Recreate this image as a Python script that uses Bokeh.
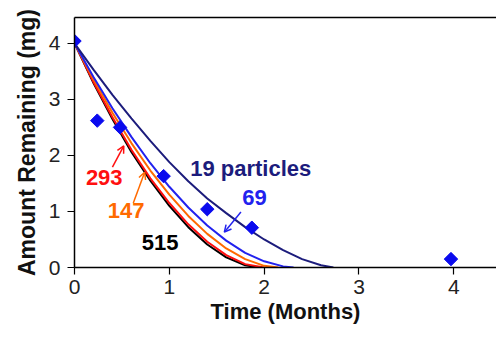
from bokeh.plotting import figure
from bokeh.models import (Range1d, LinearAxis, FixedTicker, Arrow, OpenHead, Label)
from bokeh.embed import file_html
from bokeh.resources import INLINE

# ---- data ----
meas_t = [0.0, 0.24, 0.48, 0.94, 1.40, 1.87, 3.97]
meas_m = [4.04, 2.62, 2.50, 1.63, 1.04, 0.71, 0.15]

t_515 = [0.0, 0.2, 0.4, 0.6, 0.8, 1.0, 1.2, 1.4, 1.6, 1.8, 1.95]
m_515 = [4.0, 3.29, 2.65, 2.06, 1.55, 1.10, 0.72, 0.41, 0.18, 0.04, 0.0]

t_293 = [0.0, 0.2, 0.4, 0.6, 0.8, 1.0, 1.2, 1.4, 1.6, 1.8, 2.0]
m_293 = [4.0, 3.31, 2.68, 2.10, 1.59, 1.15, 0.77, 0.46, 0.22, 0.06, 0.0]

t_147 = [0.0, 0.2, 0.4, 0.6, 0.8, 1.0, 1.2, 1.4, 1.6, 1.8, 2.0, 2.15]
m_147 = [4.0, 3.36, 2.76, 2.22, 1.73, 1.30, 0.92, 0.60, 0.34, 0.15, 0.03, 0.0]

t_69 = [0.0, 0.2, 0.4, 0.6, 0.8, 1.0, 1.2, 1.4, 1.6, 1.8, 2.0, 2.2, 2.31]
m_69 = [4.0, 3.40, 2.84, 2.33, 1.86, 1.44, 1.07, 0.75, 0.48, 0.26, 0.11, 0.02, 0.0]

t_19 = [0.0, 0.2, 0.4, 0.6, 0.8, 1.0, 1.2, 1.4, 1.6, 1.8, 2.0, 2.2, 2.4, 2.6, 2.73]
m_19 = [4.0, 3.53, 3.08, 2.66, 2.26, 1.88, 1.54, 1.23, 0.97, 0.72, 0.50, 0.31, 0.15, 0.04, 0.0]

x_ticks = [0, 1, 2, 3, 4]
y_ticks = [0, 1, 2, 3, 4]

FONT = "Liberation Sans"

p = figure(width=496, height=337, output_backend="svg", toolbar_location=None,
           x_range=Range1d(0, 4.45), y_range=Range1d(0, 4.46),
           min_border_left=74, min_border_right=0, min_border_top=17,
           min_border_bottom=70, background_fill_color="white",
           border_fill_color="white")
p.outline_line_color = None
p.grid.visible = False

# curves
p.line(t_515, m_515, line_color="#000000", line_width=2)
p.line(t_293, m_293, line_color="#ff1010", line_width=2)
p.line(t_147, m_147, line_color="#ff6a00", line_width=2)
p.line(t_69, m_69, line_color="#2222ee", line_width=2)
p.line(t_19, m_19, line_color="#1c1c7c", line_width=2)

# measured points (diamonds)
p.scatter(meas_t, meas_m, marker="square", angle=0.7854, size=9.5,
          fill_color="#0a0aee", line_color="#0a0aee")

# axes styling
for ax in (p.xaxis[0], p.yaxis[0]):
    ax.axis_line_color = "black"
    ax.axis_line_width = 1.5
    ax.major_tick_line_color = "black"
    ax.major_tick_line_width = 1.2
    ax.major_tick_in = 0
    ax.major_tick_out = 7
    ax.minor_tick_line_color = None
    ax.major_label_text_font = FONT
    ax.major_label_text_font_size = "21px"
    ax.major_label_text_color = "#222222"
    ax.axis_label_text_font = FONT
    ax.axis_label_text_font_style = "bold"
    ax.axis_label_text_color = "#111111"

p.xaxis.axis_label_text_font_size = "22px"
p.yaxis.axis_label_text_font_size = "23px"
p.xaxis.ticker = FixedTicker(ticks=x_ticks)
p.yaxis.ticker = FixedTicker(ticks=y_ticks)
p.xaxis.axis_label = "Time (Months)"
p.yaxis.axis_label = "Amount Remaining (mg)"
p.xaxis.major_label_standoff = 5
p.xaxis.axis_label_standoff = 2
p.yaxis.major_label_standoff = 7
p.yaxis.axis_label_standoff = 6

# top border line
top = LinearAxis(ticker=FixedTicker(ticks=[]), axis_line_color="black",
                 axis_line_width=1.5, major_tick_line_color=None,
                 minor_tick_line_color=None, major_label_text_font_size="0px")
p.add_layout(top, "above")

# labels
def lab(x, y, text, color, anchor="left"):
    p.add_layout(Label(x=x, y=y, text=text, text_color=color, text_font=FONT,
                       text_font_size="22px", text_font_style="bold",
                       text_baseline="middle", text_align=anchor))

lab(1.22, 1.77, "19 particles", "#1c1c7c")
lab(1.77, 1.25, "69", "#2222ee")
lab(0.12, 1.61, "293", "#ff1010")
lab(0.35, 1.02, "147", "#ff6a00")
lab(0.71, 0.45, "515", "#000000")

# arrows
def arr(x0, y0, x1, y1, color):
    p.add_layout(Arrow(x_start=x0, y_start=y0, x_end=x1, y_end=y1,
                       line_color=color, line_width=1.5,
                       end=OpenHead(size=7, line_color=color, line_width=1.5)))

arr(0.40, 1.79, 0.52, 2.17, "#ff1010")
arr(0.62, 1.15, 0.74, 1.70, "#ff6a00")
arr(1.755, 0.99, 1.58, 0.63, "#2222ee")

open("out.html", "w").write(file_html(p, INLINE))
